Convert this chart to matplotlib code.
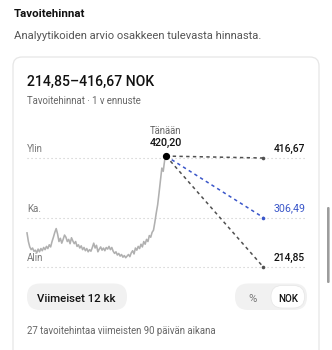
import numpy as np
import matplotlib
matplotlib.use("Agg")
import matplotlib.pyplot as plt
from matplotlib.patches import FancyBboxPatch

# ---------------- data ----------------
prices = [278, 262, 252, 247, 250, 244, 246, 241, 248, 243, 249, 245, 251, 247, 253,
          249, 256, 252, 262, 270, 279, 286, 276, 262, 268, 259, 266, 274, 270, 262,
          266, 258, 269, 263, 258, 262, 253, 256, 250, 254, 247, 251, 245, 249, 243,
          247, 244, 251, 259, 250, 255, 243, 248, 252, 246, 250, 245, 251, 248, 253,
          247, 251, 244, 240, 243, 237, 240, 235, 238, 233, 236, 232, 235, 238, 234,
          241, 245, 239, 250, 246, 253, 249, 257, 252, 262, 257, 266, 262, 273, 270,
          279, 283, 298, 315, 330, 352, 375, 398, 392, 412, 420.2]
today_price = 420.20
target_high = 416.67
target_avg = 306.49
target_low = 214.85
level_labels = ["Ylin", "Ka.", "Alin"]
currency = "NOK"
title = "Tavoitehinnat"
subtitle = "Analyytikoiden arvio osakkeen tulevasta hinnasta."
range_sub = "Tavoitehinnat · 1 v ennuste"
today_label = "Tänään"
period_label = "Viimeiset 12 kk"
toggle_labels = ["%", "NOK"]
footer = "27 tavoitehintaa viimeisten 90 päivän aikana"

def fmt(v):
    return f"{v:.2f}".replace(".", ",")

# ---------------- figure ----------------
W, H = 332, 350
DPI = 100
plt.rcParams['font.family'] = ['Roboto', 'DejaVu Sans']
fig = plt.figure(figsize=(W / DPI, H / DPI), dpi=DPI, facecolor="white")
bg = fig.add_axes([0, 0, 1, 1])
bg.set_xlim(0, W)
bg.set_ylim(H, 0)
bg.axis("off")
renderer = fig.canvas.get_renderer()

def fit(t, width_px):
    t.set_fontsize(10)
    w = t.get_window_extent(renderer).width
    t.set_fontsize(10 * width_px / w)
    return t

# card
card = FancyBboxPatch((13, 57), 306, 320, boxstyle="round,pad=0,rounding_size=9",
                      fc="white", ec="#e6e6e6", lw=0.9, zorder=1)
bg.add_patch(card)
# scrollbar
bg.add_patch(FancyBboxPatch((327, 207), 2.6, 76, boxstyle="round,pad=0,rounding_size=1.2",
                            fc="#9c9c9c", ec="none", zorder=2))

# header texts
fit(bg.text(14, 16.7, title, fontweight="bold", color="#111111", va="baseline"), 71)
fit(bg.text(14, 39.3, subtitle, color="#555555", va="baseline"), 248)
fit(bg.text(27, 86, f"{fmt(target_low)}–{fmt(target_high)} {currency}", fontweight="medium",
            color="#111111", va="baseline"), 127)
fit(bg.text(27, 104.3, range_sub, color="#666666", va="baseline"), 114.5)

# buttons
bg.add_patch(FancyBboxPatch((27, 283.5), 100, 26.5, boxstyle="round,pad=0,rounding_size=13",
                            fc="#f1f1f1", ec="none", zorder=2))
fit(bg.text(37.3, 301.7, period_label, fontweight="medium", color="#111111",
            va="baseline", zorder=3), 78.7)
bg.add_patch(FancyBboxPatch((235, 283.5), 72, 26.5, boxstyle="round,pad=0,rounding_size=13",
                            fc="#f1f1f1", ec="none", zorder=2))
bg.add_patch(FancyBboxPatch((271, 285.5), 33.5, 22.5, boxstyle="round,pad=0,rounding_size=11",
                            fc="white", ec="#e6e6e6", lw=0.5, zorder=3))
fit(bg.text(248.3, 301.7, toggle_labels[0], color="#777777", va="baseline", zorder=4), 8.4)
fit(bg.text(278.3, 301.7, toggle_labels[1], fontweight="medium", color="#111111",
            va="baseline", zorder=4), 20)
fit(bg.text(27.3, 334, footer, color="#666666", va="baseline"), 190)

# ---------------- chart ----------------
PX_PER_IDX = 1.39          # horizontal scale (px per sample)
TARGET_X = 170             # x position of target end points (in sample units)
GRID_END = 200
Y_TOP_PX, Y_BOT_PX = 125, 275
X_LEFT_PX, X_RIGHT_PX = 20, 312
px_per_val = (267 - 158) / (target_high - target_low)
ax = fig.add_axes([X_LEFT_PX / W, 1 - Y_BOT_PX / H,
                   (X_RIGHT_PX - X_LEFT_PX) / W, (Y_BOT_PX - Y_TOP_PX) / H])
ax.set_xlim((X_LEFT_PX - 27) / PX_PER_IDX, (X_RIGHT_PX - 27) / PX_PER_IDX)
ax.set_ylim(target_low - (Y_BOT_PX - 267) / px_per_val,
            target_high + (158 - Y_TOP_PX) / px_per_val)
ax.axis("off")
ax.patch.set_alpha(0)

x = np.arange(len(prices))
last = x[-1]
levels = [target_high, target_avg, target_low]
for v in levels:
    ax.plot([0, GRID_END], [v, v], color="#c8c8c8", lw=0.8, ls=(0, (1, 2.6)), zorder=1)

ax.plot(x, prices, color="#b0b0b0", lw=1.15, zorder=3, solid_joinstyle="round")

dash_cols = ["#505050", "#3a56c9", "#505050"]
for v, c in zip(levels, dash_cols):
    ax.plot([last, TARGET_X], [today_price, v], color=c, lw=1.1, ls=(0, (2.2, 2.2)), zorder=4)
    ax.plot([TARGET_X], [v], "o", color=c, ms=2.6, mec="none", zorder=5)
ax.plot([last], [today_price], "o", color="black", ms=4.2, zorder=6)

# level labels (same size, fitted on "Ylin")
lvl_size = None
for lab, v in zip(level_labels, levels):
    t = ax.annotate(lab, (0, v), xytext=(0, 4.1), textcoords="offset points",
                    color="#777777", va="baseline", ha="left", zorder=2)
    if lvl_size is None:
        fit(t, 16)
        lvl_size = t.get_fontsize()
    else:
        t.set_fontsize(lvl_size)

val_cols = ["#111111", "#3a56c9", "#111111"]
val_weights = ["medium", "normal", "medium"]
for v, c, wgt in zip(levels, val_cols, val_weights):
    t = ax.annotate(fmt(v), (TARGET_X, v), xytext=(7.2, 4.3), textcoords="offset points",
                    color=c, fontweight=wgt, va="baseline", ha="left", zorder=6)
    fit(t, 31.7)

fit(ax.annotate(fmt(today_price), (last, today_price), xytext=(0, 7.4), textcoords="offset points",
                color="#111111", fontweight="medium", va="baseline", ha="center", zorder=6), 33)
fit(ax.annotate(today_label, (last, today_price), xytext=(0, 15.8), textcoords="offset points",
                color="#666666", va="baseline", ha="center", zorder=6), 31.7)

fig.savefig("out.png", dpi=DPI, facecolor="white")
